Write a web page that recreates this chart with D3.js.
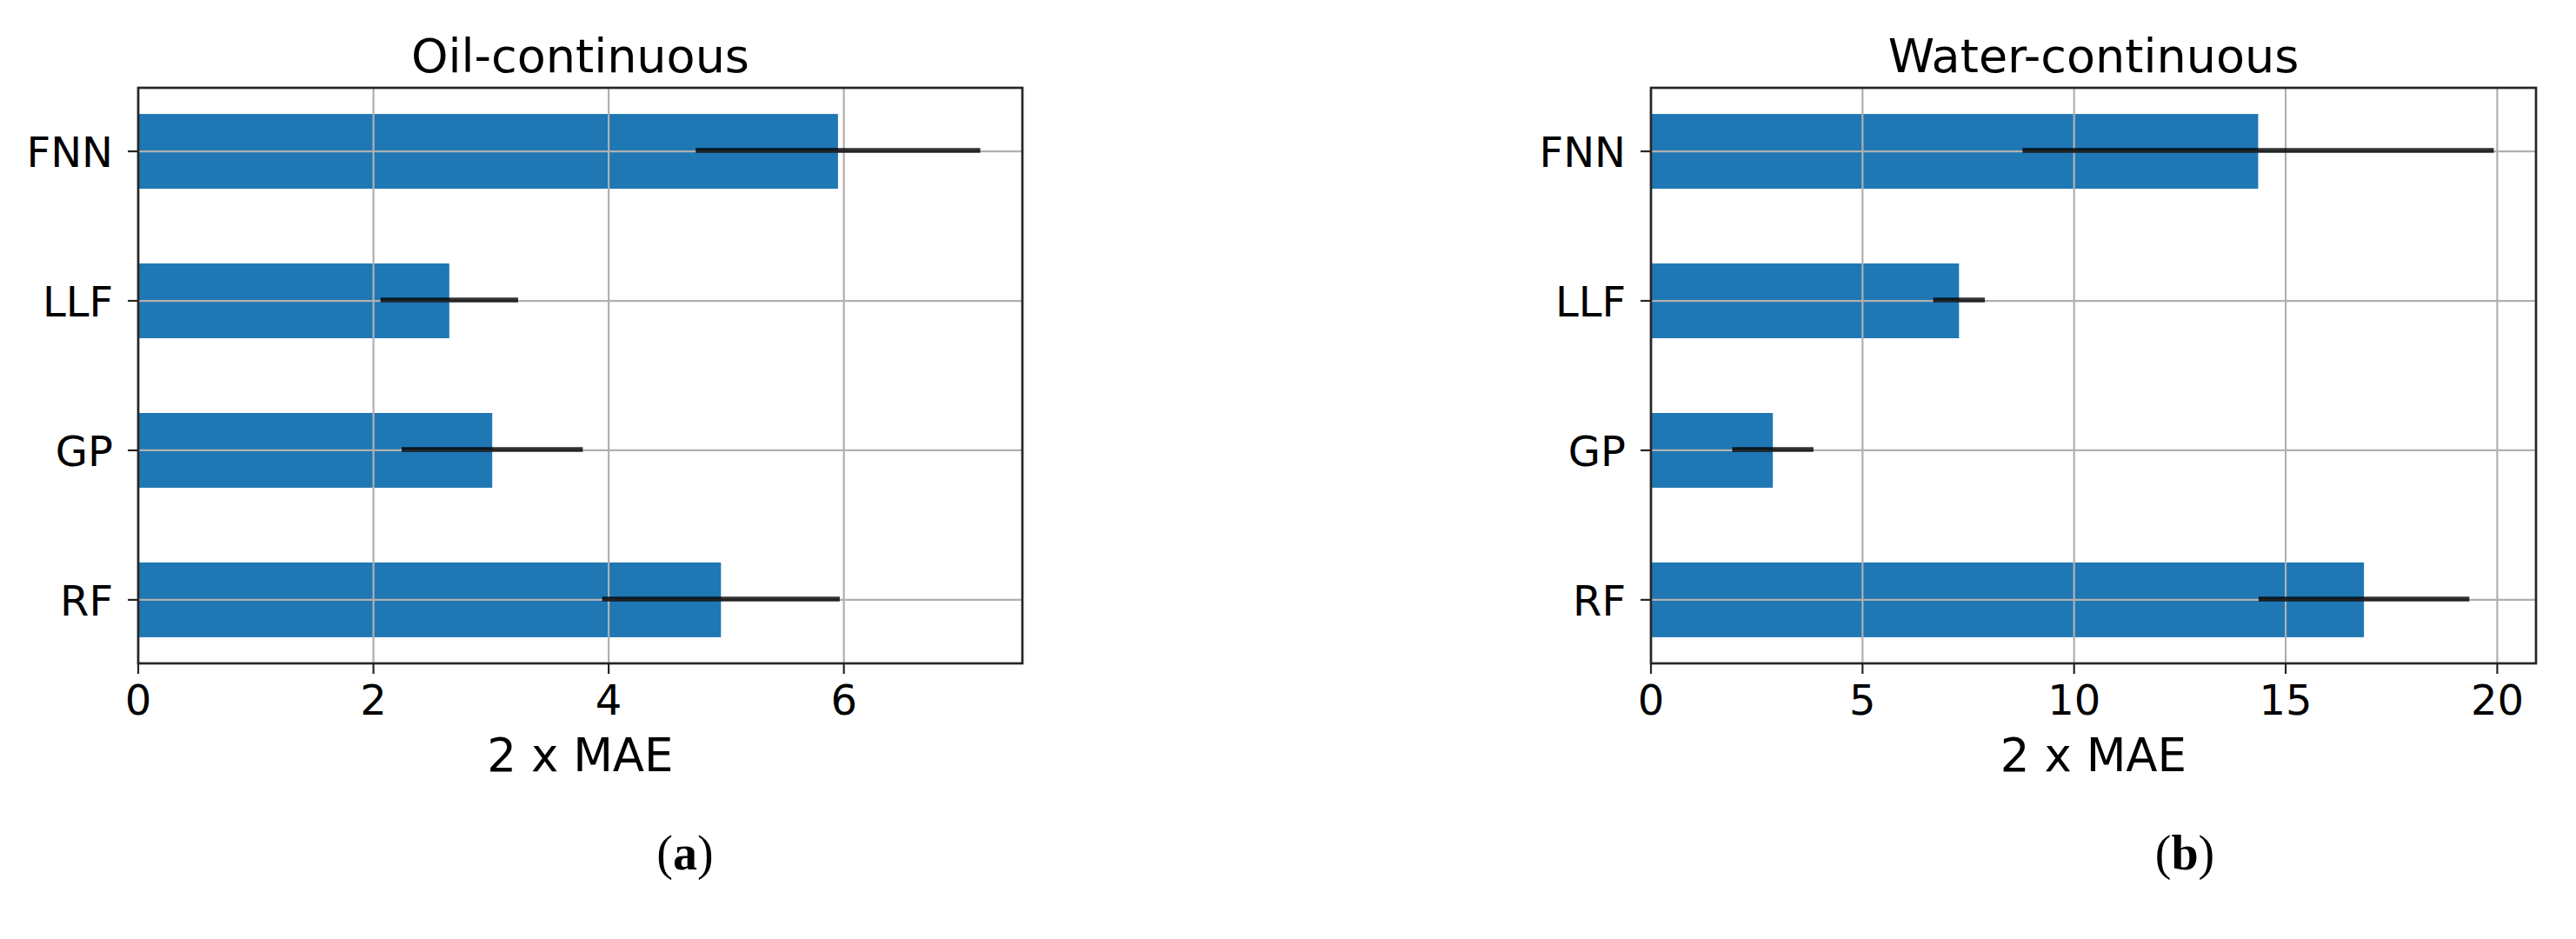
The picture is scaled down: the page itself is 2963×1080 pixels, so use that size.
<!DOCTYPE html>
<html>
<head>
<meta charset="utf-8">
<script src="https://cdn.jsdelivr.net/npm/d3@7"></script>
<style>
  html, body { margin: 0; padding: 0; background: #fff; }
  svg { display: block; }
  .tick-label { font-family: "DejaVu Sans", sans-serif; font-size: 48px; fill: #000; }
  .axis-title { font-family: "DejaVu Sans", sans-serif; font-size: 53px; fill: #000; }
  .panel-title { font-family: "DejaVu Sans", sans-serif; font-size: 54px; fill: #000; }
  .caption { font-family: "Liberation Serif", "DejaVu Serif", serif; font-size: 56px; fill: #000; }
</style>
</head>
<body>
<div id="chart"></div>
<script>
// models, bottom to top as drawn
const models = ['RF', 'GP', 'LLF', 'FNN'];

// Oil-continuous: 2 x MAE and error half-width
const oilMae = [4.955, 3.01, 2.645, 5.95];
const oilErr = [1.01, 0.77, 0.585, 1.21];

// Water-continuous
const waterMae = [16.85, 2.88, 7.28, 14.35];
const waterErr = [2.49, 0.96, 0.61, 5.57];

const oilTicks = [0, 2, 4, 6];
const waterTicks = [0, 5, 10, 15, 20];

const W = 2963, H = 1080;
const plotTop = 101, plotBottom = 763;
const barColor = '#1f77b4';
const gridColor = '#b0b0b0';
const spineColor = '#262626';

const svg = d3.select('#chart').append('svg')
  .attr('width', W)
  .attr('height', H);

svg.append('rect').attr('width', W).attr('height', H).attr('fill', '#fff');

function drawPanel(opts) {
  const { left, right, title, values, errors, ticks, caption, captionX } = opts;

  // matplotlib style auto limits: 5% margin
  const xMax = d3.max(values, (d, i) => d + errors[i]) * 1.05;
  const x = d3.scaleLinear().domain([0, xMax]).range([left, right]);
  const y = d3.scaleLinear().domain([-0.425, models.length - 1 + 0.425]).range([plotBottom, plotTop]);
  const barH = y(0) - y(0.5);

  const g = svg.append('g');

  // bars
  g.selectAll('.bar')
    .data(models)
    .enter()
    .append('rect')
    .attr('class', 'bar')
    .attr('x', x(0))
    .attr('y', (d, i) => y(i) - barH / 2)
    .attr('width', (d, i) => x(values[i]) - x(0))
    .attr('height', barH)
    .attr('fill', barColor);

  // grid over bars
  g.selectAll('.vgrid')
    .data(ticks)
    .enter()
    .append('line')
    .attr('x1', d => x(d)).attr('x2', d => x(d))
    .attr('y1', plotTop).attr('y2', plotBottom)
    .attr('stroke', gridColor)
    .attr('stroke-width', 2.2);

  g.selectAll('.hgrid')
    .data(models)
    .enter()
    .append('line')
    .attr('x1', left).attr('x2', right)
    .attr('y1', (d, i) => y(i)).attr('y2', (d, i) => y(i))
    .attr('stroke', gridColor)
    .attr('stroke-width', 2.2);

  // error bars
  g.selectAll('.err')
    .data(models)
    .enter()
    .append('line')
    .attr('x1', (d, i) => x(values[i] - errors[i]))
    .attr('x2', (d, i) => x(values[i] + errors[i]))
    .attr('y1', (d, i) => y(i) - 1)
    .attr('y2', (d, i) => y(i) - 1)
    .attr('stroke', '#000')
    .attr('stroke-opacity', 0.8)
    .attr('stroke-width', 5.5);

  // spines
  g.append('rect')
    .attr('x', left).attr('y', plotTop)
    .attr('width', right - left).attr('height', plotBottom - plotTop)
    .attr('fill', 'none')
    .attr('stroke', spineColor)
    .attr('stroke-width', 2.7);

  // x ticks
  g.selectAll('.xtick')
    .data(ticks)
    .enter()
    .append('line')
    .attr('x1', d => x(d)).attr('x2', d => x(d))
    .attr('y1', plotBottom).attr('y2', plotBottom + 12)
    .attr('stroke', spineColor)
    .attr('stroke-width', 2.2);

  g.selectAll('.xlabel')
    .data(ticks)
    .enter()
    .append('text')
    .attr('class', 'tick-label')
    .attr('x', d => x(d))
    .attr('y', 822)
    .attr('text-anchor', 'middle')
    .text(d => d);

  // y ticks
  g.selectAll('.ytick')
    .data(models)
    .enter()
    .append('line')
    .attr('x1', left - 12).attr('x2', left)
    .attr('y1', (d, i) => y(i)).attr('y2', (d, i) => y(i))
    .attr('stroke', spineColor)
    .attr('stroke-width', 2.2);

  g.selectAll('.ylabel')
    .data(models)
    .enter()
    .append('text')
    .attr('class', 'tick-label')
    .attr('x', left - 29)
    .attr('y', (d, i) => y(i) + 18)
    .attr('text-anchor', 'end')
    .text(d => d);

  // titles
  g.append('text')
    .attr('class', 'panel-title')
    .attr('x', (left + right) / 2)
    .attr('y', 83)
    .attr('text-anchor', 'middle')
    .text(title);

  g.append('text')
    .attr('class', 'axis-title')
    .attr('x', (left + right) / 2)
    .attr('y', 887)
    .attr('text-anchor', 'middle')
    .text('2 x MAE');

  // subfigure caption below the plot
  const cap = g.append('text')
    .attr('class', 'caption')
    .attr('x', captionX)
    .attr('y', 1000)
    .attr('text-anchor', 'middle');
  cap.append('tspan').text('(');
  cap.append('tspan').attr('font-weight', 'bold').text(caption);
  cap.append('tspan').text(')');
}

drawPanel({
  left: 159, right: 1176,
  title: 'Oil-continuous',
  values: oilMae, errors: oilErr, ticks: oilTicks,
  caption: 'a', captionX: 788
});

drawPanel({
  left: 1899, right: 2917,
  title: 'Water-continuous',
  values: waterMae, errors: waterErr, ticks: waterTicks,
  caption: 'b', captionX: 2513
});
</script>
</body>
</html>
